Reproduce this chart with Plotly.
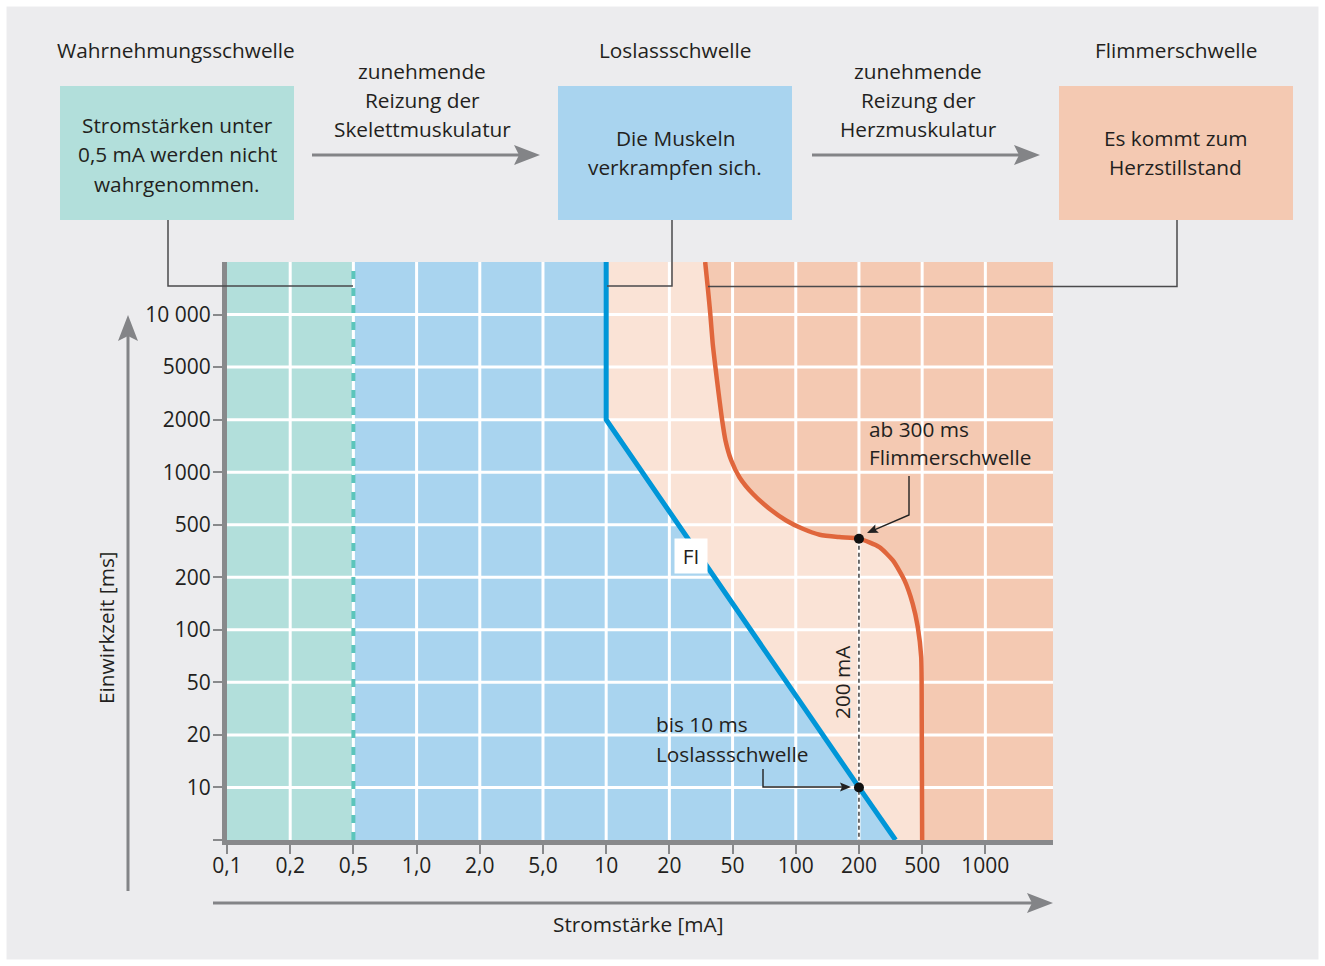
import math
import plotly.graph_objects as go

# ---------------- data ----------------
X_TICK_VALUES = [0.1, 0.2, 0.5, 1, 2, 5, 10, 20, 50, 100, 200, 500, 1000]   # mA
X_TICK_LABELS = ["0,1", "0,2", "0,5", "1,0", "2,0", "5,0", "10", "20", "50",
                 "100", "200", "500", "1000"]
Y_TICK_VALUES = [5, 10, 20, 50, 100, 200, 500, 1000, 2000, 5000, 10000]     # ms
Y_TICK_LABELS = ["", "10", "20", "50", "100", "200", "500", "1000", "2000",
                 "5000", "10 000"]
X_RANGE_MA = [0.1, 2100]
Y_RANGE_MS = [5, 20000]

PERCEPTION_MA = 0.5                       # Wahrnehmungsschwelle
LETGO_MA = [10, 10, 200, 340]             # Loslassschwelle (FI)
LETGO_MS = [20000, 2000, 10, 5]
FIBR_MA = [33.6, 34.9, 36.2, 37.5, 39.0, 40.9, 43.0, 45.1, 49.0, 53.9, 62.4,
           74.9, 90.0, 108, 130, 161, 200, 269, 327, 387, 436, 469, 493, 497, 500]
FIBR_MS = [20000, 14300, 10080, 6790, 4980, 3130, 1980, 1520, 1170, 936, 752,
           617, 529, 466, 420, 403, 392, 338, 268, 192, 141, 104, 69.9, 25.8, 5]
MARK_MA = [200, 200]
MARK_MS = [392, 10]

# ---------------- styles ----------------
FONT = "Open Sans"
TEXT = "#231f20"
BG = "#ececee"
GREEN = "#b2dfdb"
BLUE_FILL = "#a9d4ef"
PEACH = "#fae3d6"
SALMON = "#f4c9b2"
BLUE_LINE = "#0096d8"
ORANGE = "#e0663c"
TEAL = "#5cc5bb"
AXIS_GRAY = "#88898b"
ARROW_GRAY = "#838487"
CONN = "#4a4a4c"
TXT_SIZE = 20.8
TICK_SIZE = 21

W, H = 1325, 966
ML, MR, MT, MB = 227, 272, 262, 126
PW, PH = W - ML - MR, H - MT - MB


def scale_pos(v, ticks, offset):
    n = len(ticks)
    for i in range(n - 1):
        a, b = ticks[i], ticks[i + 1]
        if v <= b or i == n - 2:
            return offset + i + math.log(v / a) / math.log(b / a)


def X(v):
    return scale_pos(v, X_TICK_VALUES, 0)


def Y(v):
    return scale_pos(v, Y_TICK_VALUES, -1)


def fx(x):
    return (x - ML) / PW


def fy(y):
    return (H - MB - y) / PH


fig = go.Figure()
skip = dict(hoverinfo="skip", showlegend=False)
SPL = dict(shape="spline", smoothing=0.6)

# region fills
fig.add_trace(go.Scatter(
    x=[X(v) for v in FIBR_MA], y=[Y(v) for v in FIBR_MS], mode="lines",
    line=dict(width=0, color="rgba(0,0,0,0)", **SPL),
    fill="tozerox", fillcolor=PEACH, **skip))
fig.add_trace(go.Scatter(
    x=[X(v) for v in LETGO_MA], y=[Y(v) for v in LETGO_MS], mode="lines",
    line=dict(width=0, color="rgba(0,0,0,0)"),
    fill="tozerox", fillcolor=BLUE_FILL, **skip))
fig.add_trace(go.Scatter(
    x=[X(PERCEPTION_MA)] * 2, y=[Y(Y_RANGE_MS[0]), Y(Y_RANGE_MS[1])], mode="lines",
    line=dict(width=0, color="rgba(0,0,0,0)"),
    fill="tozerox", fillcolor=GREEN, **skip))

# white grid
gx, gy = [], []
for v in X_TICK_VALUES[1:]:
    gx += [X(v), X(v), None]
    gy += [Y(Y_RANGE_MS[0]), Y(Y_RANGE_MS[1]), None]
for v in Y_TICK_VALUES[1:]:
    gx += [X(X_RANGE_MA[0]), X(X_RANGE_MA[1]), None]
    gy += [Y(v), Y(v), None]
fig.add_trace(go.Scatter(x=gx, y=gy, mode="lines",
                         line=dict(color="white", width=3), **skip))

# perception threshold dashed
fig.add_trace(go.Scatter(
    x=[X(PERCEPTION_MA)] * 2, y=[Y(Y_RANGE_MS[0]), Y(Y_RANGE_MS[1])], mode="lines",
    line=dict(color=TEAL, width=4, dash="8px,9px"), **skip))

# 200 mA dashed drop line
fig.add_trace(go.Scatter(
    x=[X(MARK_MA[0])] * 2, y=[Y(MARK_MS[0]), Y(Y_RANGE_MS[0])], mode="lines",
    line=dict(color="#111111", width=1.2, dash="4px,3px"), **skip))

# let-go line
fig.add_trace(go.Scatter(
    x=[X(v) for v in LETGO_MA], y=[Y(v) for v in LETGO_MS], mode="lines",
    line=dict(color=BLUE_LINE, width=5), **skip))

# fibrillation curve
fig.add_trace(go.Scatter(
    x=[X(v) for v in FIBR_MA], y=[Y(v) for v in FIBR_MS], mode="lines",
    line=dict(color=ORANGE, width=4.5, **SPL), **skip))

# marked points
fig.add_trace(go.Scatter(
    x=[X(v) for v in MARK_MA], y=[Y(v) for v in MARK_MS], mode="markers",
    marker=dict(color="#111111", size=10), **skip))

# ---------------- decorations ----------------
shapes = []
annotations = []


def P(pt):
    return fx(pt[0]), fy(pt[1])


def polyline(points, color, width):
    d = "M " + " L ".join("%.5f,%.5f" % P(p) for p in points)
    shapes.append(dict(type="path", path=d, xref="paper", yref="paper",
                       line=dict(color=color, width=width), layer="above"))


def head(tip, frm, length, half_w, notch, color):
    dx, dy = tip[0] - frm[0], tip[1] - frm[1]
    n = math.hypot(dx, dy)
    ux, uy = dx / n, dy / n
    px_, py_ = -uy, ux
    bx, by = tip[0] - ux * length, tip[1] - uy * length
    pts = [tip, (bx + px_ * half_w, by + py_ * half_w),
           (tip[0] - ux * (length - notch), tip[1] - uy * (length - notch)),
           (bx - px_ * half_w, by - py_ * half_w)]
    d = "M " + " L ".join("%.5f,%.5f" % P(p) for p in pts) + " Z"
    shapes.append(dict(type="path", path=d, xref="paper", yref="paper",
                       fillcolor=color, line=dict(width=0), layer="above"))


def arrow(points, color, width, length, half_w, notch):
    tip, frm = points[-1], points[-2]
    dx, dy = tip[0] - frm[0], tip[1] - frm[1]
    n = math.hypot(dx, dy)
    end = (tip[0] - dx / n * (length - notch - 1), tip[1] - dy / n * (length - notch - 1))
    polyline(points[:-1] + [end], color, width)
    head(tip, frm, length, half_w, notch, color)


def rect(x0, y0, x1, y1, color):
    shapes.append(dict(type="rect", xref="paper", yref="paper",
                       x0=fx(x0), x1=fx(x1), y0=fy(y1), y1=fy(y0),
                       fillcolor=color, line=dict(width=0), layer="above"))


def label(x, y, text, xanchor="center", angle=0, size=TXT_SIZE, bg=None, **kw):
    a = dict(x=fx(x), y=fy(y), xref="paper", yref="paper", text=text,
             showarrow=False, xanchor=xanchor, yanchor="middle", textangle=angle,
             font=dict(family=FONT, size=size, color=TEXT))
    if bg:
        a.update(bgcolor=bg)
    a.update(kw)
    annotations.append(a)


# top boxes
rect(60, 86, 294, 220, GREEN)
rect(558, 86, 792, 220, BLUE_FILL)
rect(1059, 86, 1293, 220, SALMON)

# headers
label(176, 50, "Wahrnehmungsschwelle")
label(675, 50, "Loslassschwelle")
label(1176, 50, "Flimmerschwelle")

for cx, last in ((422, "Skelettmuskulatur"), (918, "Herzmuskulatur")):
    label(cx, 71, "zunehmende")
    label(cx, 100, "Reizung der")
    label(cx, 129, last)

label(177, 125, "Stromstärken unter")
label(177, 154, "0,5 mA werden nicht")
label(177, 183.5, "wahrgenommen.")
label(675, 137.5, "Die Muskeln")
label(675, 167, "verkrampfen sich.")
label(1175, 137.5, "Es kommt zum")
label(1175, 166.5, "Herzstillstand")

# flow arrows
arrow([(312, 155), (540, 155)], ARROW_GRAY, 3, 26, 10, 5)
arrow([(812, 155), (1040, 155)], ARROW_GRAY, 3, 26, 10, 5)

# connectors from boxes to thresholds
polyline([(168, 220), (168, 286), (353, 286)], CONN, 1.5)
polyline([(672, 220), (672, 286), (607, 286)], CONN, 1.5)
polyline([(1177, 220), (1177, 286.5), (708, 286.5)], CONN, 1.5)

# axis arrows
arrow([(128, 891), (128, 315)], ARROW_GRAY, 3, 26, 10, 5)
arrow([(213, 903), (1053, 903)], ARROW_GRAY, 3, 26, 10, 5)

# in-chart annotations
label(867, 428.5, "ab 300 ms", xanchor="left")
label(867, 456.5, "Flimmerschwelle", xanchor="left")
arrow([(909, 476), (909, 515), (867, 533)], "#222222", 1.4, 11, 4.5, 2)

label(654, 724, "bis 10 ms", xanchor="left")
label(654, 754, "Loslassschwelle", xanchor="left")
arrow([(763, 769), (763, 787), (851, 787)], "#222222", 1.4, 11, 4.5, 2)

label(842, 682, "200 mA", angle=-90)
label(691, 556, "FI", bg="white", width=30, height=32)

label(106, 628, "Einwirkzeit [ms]", angle=-90)
label(638, 924, "Stromstärke [mA]")

# white outer border
shapes.append(dict(type="rect", xref="paper", yref="paper",
                   x0=fx(0), x1=fx(W), y0=fy(H), y1=fy(0),
                   line=dict(color="white", width=13), fillcolor="rgba(0,0,0,0)",
                   layer="above"))

axis_common = dict(showgrid=False, zeroline=False, showline=True, linewidth=5,
                   linecolor=AXIS_GRAY, ticks="outside", ticklen=9, tickwidth=2,
                   tickcolor=AXIS_GRAY, layer="above traces", fixedrange=True,
                   tickfont=dict(family=FONT, size=TICK_SIZE, color=TEXT),
                   tickmode="array")

fig.update_layout(
    width=W, height=H,
    margin=dict(l=ML, r=MR, t=MT, b=MB, pad=0),
    paper_bgcolor=BG, plot_bgcolor=SALMON, showlegend=False,
    xaxis=dict(range=[X(X_RANGE_MA[0]), X(X_RANGE_MA[1])],
               tickvals=[X(v) for v in X_TICK_VALUES], ticktext=X_TICK_LABELS,
               ticklabelstandoff=-6, **axis_common),
    yaxis=dict(range=[Y(Y_RANGE_MS[0]), Y(Y_RANGE_MS[1])],
               tickvals=[Y(v) for v in Y_TICK_VALUES], ticktext=Y_TICK_LABELS,
               ticklabelstandoff=-2, **axis_common),
    shapes=shapes, annotations=annotations,
)

fig.write_html("out.html", config={"displayModeBar": False},
               post_script="document.body.style.margin='0px';"
                           "document.body.style.overflow='hidden';")
